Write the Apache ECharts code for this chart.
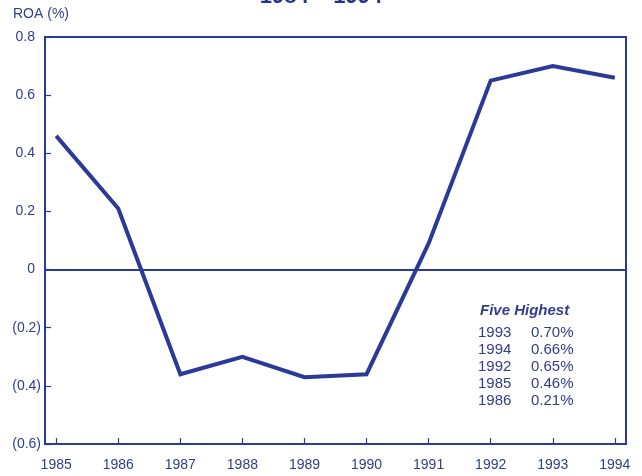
<!DOCTYPE html>
<html>
<head>
<meta charset="utf-8">
<script src="https://cdn.jsdelivr.net/npm/echarts@6/dist/echarts.min.js"></script>
<style>
  html, body { margin: 0; padding: 0; background: #fff; }
  #chart { width: 642px; height: 476px; }
</style>
</head>
<body>
<div id="chart"></div>
<script>
  // ROA by year
  var years = [1985, 1986, 1987, 1988, 1989, 1990, 1991, 1992, 1993, 1994];
  var roa = [0.46, 0.21, -0.36, -0.30, -0.37, -0.36, 0.09, 0.65, 0.70, 0.66];

  var titleText = '1984 – 1994';
  var yName = 'ROA (%)';
  var boxTitle = 'Five Highest';

  var ink = '#2b3a98';
  var textInk = '#323d8c';

  // five highest, taken from the series itself
  var top5 = years.map(function (y, i) { return [y, roa[i]]; })
    .sort(function (a, b) { return b[1] - a[1]; })
    .slice(0, 5);

  var graphics = [
    {
      type: 'text', left: 'center', top: -14,
      style: { text: titleText, font: 'bold 22px "Liberation Sans", Arial', fill: '#27348c' }
    },
    {
      type: 'text', left: 13, top: 7,
      style: { text: yName, font: '14px "Liberation Sans", Arial', fill: textInk }
    },
    {
      type: 'text', left: 480, top: 303,
      style: { text: boxTitle, font: 'italic bold 15px "Liberation Sans", Arial', fill: textInk }
    }
  ];
  top5.forEach(function (r, i) {
    graphics.push({
      type: 'text', left: 478, top: 325 + i * 17.2,
      style: { text: String(r[0]), font: '15px "Liberation Sans", Arial', fill: textInk }
    });
    graphics.push({
      type: 'text', left: 531, top: 325 + i * 17.2,
      style: { text: r[1].toFixed(2) + '%', font: '15px "Liberation Sans", Arial', fill: textInk }
    });
  });

  var chart = echarts.init(document.getElementById('chart'));
  chart.setOption({
    animation: false,
    backgroundColor: '#fff',
    grid: {
      left: 45, right: 16, top: 37, bottom: 32,
      show: true, borderColor: ink, borderWidth: 2
    },
    xAxis: {
      type: 'value',
      min: 1984.82,
      max: 1994.18,
      axisLine: { show: true, onZero: false, lineStyle: { color: ink, width: 2 } },
      axisTick: { show: true, inside: true, length: 6, customValues: years, lineStyle: { color: ink, width: 1.2 } },
      axisLabel: {
        customValues: years, margin: 14,
        color: textInk, fontSize: 14, fontFamily: '"Liberation Sans", Arial',
        formatter: function (v) { return String(Math.round(v)); }
      },
      splitLine: { show: false }
    },
    yAxis: {
      type: 'value',
      min: -0.6,
      max: 0.8,
      interval: 0.2,
      axisLine: { show: true, lineStyle: { color: ink, width: 2 } },
      axisTick: { show: true, inside: true, length: 6, lineStyle: { color: ink, width: 1.2 } },
      axisLabel: {
        margin: 4,
        color: textInk, fontSize: 14, fontFamily: '"Liberation Sans", Arial',
        formatter: function (v) {
          v = Math.round(v * 10) / 10;
          if (v < 0) return '(' + Math.abs(v).toFixed(1) + ')';
          return '{p|' + (v === 0 ? '0' : v.toFixed(1)) + '}';
        },
        rich: { p: { padding: [0, 6, 0, 0], color: textInk, fontSize: 14, fontFamily: '"Liberation Sans", Arial' } }
      },
      splitLine: { show: false }
    },
    graphic: graphics,
    series: [{
      type: 'line',
      data: years.map(function (y, i) { return [y, roa[i]]; }),
      symbol: 'none',
      lineStyle: { color: ink, width: 4, join: 'miter' },
      markLine: {
        silent: true,
        symbol: 'none',
        label: { show: false },
        lineStyle: { color: ink, width: 1.8, type: 'solid' },
        data: [{ yAxis: 0 }]
      }
    }]
  });
</script>
</body>
</html>
